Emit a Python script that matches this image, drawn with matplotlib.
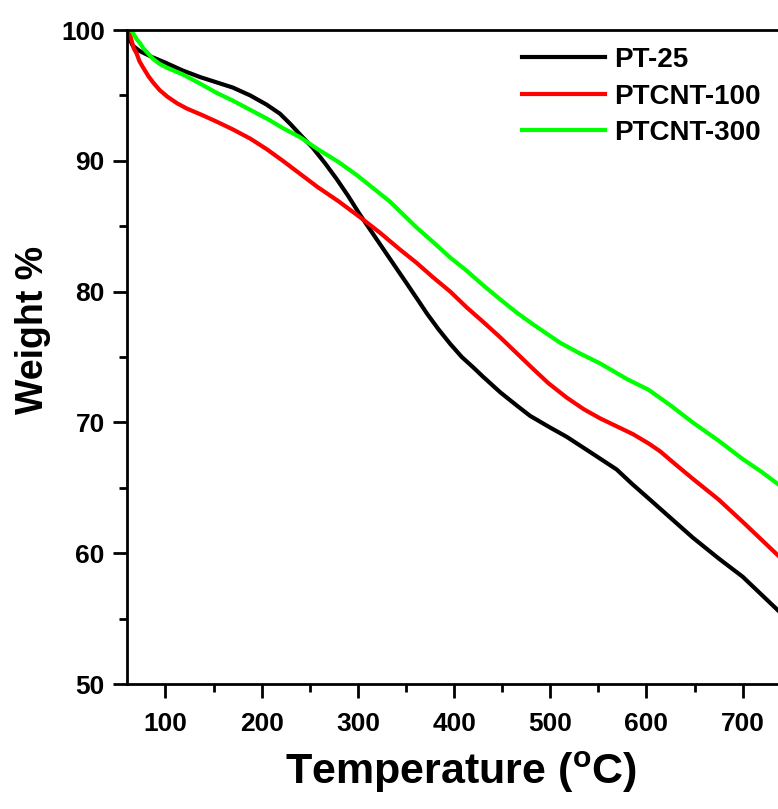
import numpy as np
import matplotlib
matplotlib.use("Agg")
import matplotlib.pyplot as plt
from matplotlib.ticker import MultipleLocator

# TGA curves
t_pt25 = [60, 62, 66, 73, 87, 100, 118, 136, 153, 170, 188, 205, 219, 230, 240,
          253, 266, 278, 290, 302, 314, 326, 338, 351, 362, 372, 384, 396, 408,
          420, 430, 448, 465, 479, 500, 517, 540, 569, 585, 602, 625, 648, 675,
          700, 720, 740]
w_pt25 = [100.0, 99.4, 98.8, 98.4, 97.9, 97.5, 96.9, 96.4, 96.0, 95.6, 95.0,
          94.3, 93.6, 92.8, 92.0, 91.0, 89.8, 88.6, 87.3, 85.9, 84.6, 83.3, 82.0,
          80.6, 79.4, 78.3, 77.1, 76.0, 75.0, 74.2, 73.5, 72.3, 71.3, 70.5, 69.6,
          68.9, 67.8, 66.4, 65.3, 64.2, 62.7, 61.2, 59.6, 58.2, 56.8, 55.4]

t_ptcnt100 = [61, 64, 67, 70, 73, 77, 82, 87, 94, 102, 112, 122, 138, 153, 170,
              188, 205, 222, 240, 258, 280, 302, 323, 344, 361, 378, 396, 413,
              430, 448, 465, 482, 498, 517, 535, 552, 569, 586, 602, 614, 630,
              648, 675, 700, 720, 740]
w_ptcnt100 = [100.0, 99.4, 98.6, 98.2, 97.6, 97.1, 96.5, 96.0, 95.4, 94.9, 94.4,
              94.0, 93.5, 93.0, 92.4, 91.7, 90.9, 90.0, 89.0, 88.0, 86.9, 85.7,
              84.5, 83.2, 82.2, 81.1, 80.0, 78.8, 77.7, 76.5, 75.3, 74.1, 73.0,
              71.9, 71.0, 70.3, 69.7, 69.1, 68.4, 67.8, 66.8, 65.7, 64.1, 62.4,
              61.0, 59.6]

t_ptcnt300 = [64, 66, 70, 73.5, 77, 82, 87, 94, 102, 118, 136, 153, 170, 188,
              206, 222, 240, 258, 280, 299, 316, 333, 347, 361, 378, 396, 413,
              430, 448, 465, 482, 498, 510, 530, 552, 580, 602, 625, 648, 675,
              700, 720, 740]
w_ptcnt300 = [100.0, 99.8, 99.3, 99.0, 98.6, 98.2, 97.8, 97.4, 97.1, 96.6, 95.9,
              95.2, 94.6, 93.9, 93.2, 92.5, 91.8, 90.9, 89.9, 88.9, 87.9, 86.9,
              85.9, 84.9, 83.8, 82.6, 81.6, 80.5, 79.4, 78.4, 77.5, 76.7, 76.1,
              75.3, 74.5, 73.3, 72.5, 71.3, 70.0, 68.6, 67.2, 66.2, 65.1]

plt.rcParams['font.family'] = ['Liberation Sans', 'DejaVu Sans']
plt.rcParams['font.weight'] = 'bold'
plt.rcParams['mathtext.fontset'] = 'custom'
plt.rcParams['mathtext.rm'] = 'Liberation Sans:bold'

fig = plt.figure(figsize=(7.78, 8.09), dpi=100)
# axes runs past the right edge of the picture, like the cropped original
ax = fig.add_axes([127/778, 1 - 684/809, (755-60)*0.962/778, 654/809])

ax.plot(t_pt25, w_pt25, color='black', lw=3, label='PT-25')
ax.plot(t_ptcnt100, w_ptcnt100, color='#ff0000', lw=3, label='PTCNT-100')
ax.plot(t_ptcnt300, w_ptcnt300, color='#00ff00', lw=3, label='PTCNT-300')

ax.set_xlim(60, 755)
ax.set_ylim(50, 100)
ax.xaxis.set_major_locator(MultipleLocator(100))
ax.xaxis.set_minor_locator(MultipleLocator(50))
ax.yaxis.set_major_locator(MultipleLocator(10))
ax.yaxis.set_minor_locator(MultipleLocator(5))
ax.tick_params(which='major', direction='out', length=10, width=2,
               labelsize=19, pad=6)
ax.tick_params(axis='x', which='major', pad=10)
ax.tick_params(which='minor', direction='out', length=6, width=2)
for s in ax.spines.values():
    s.set_linewidth(2)

ax.set_xlabel('Temperature ($^{\\mathrm{o}}$C)', fontsize=31, fontweight='bold')
ax.set_ylabel('Weight %', fontsize=27, fontweight='bold')
ax.xaxis.set_label_coords(0.5, -0.1)
ax.yaxis.set_label_coords(-0.113, 0.541)

fig.legend(loc='upper left', bbox_to_anchor=(522/778, 1 - 47/809),
           frameon=False, handlelength=3.0, handletextpad=0.3,
           labelspacing=0.38, borderpad=0, borderaxespad=0,
           prop={'weight': 'bold', 'size': 20})

fig.savefig('out.png', dpi=100)
